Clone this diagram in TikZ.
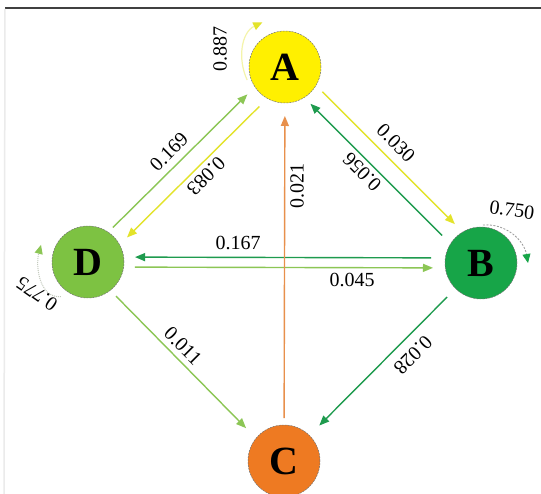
\documentclass[tikz,border=0pt]{standalone}
\usepackage{fontspec}
\setmainfont{Liberation Serif}
\usetikzlibrary{calc,arrows.meta}
\definecolor{fillA}{HTML}{FFF000}
\definecolor{fillB}{HTML}{17A548}
\definecolor{fillC}{HTML}{EE7A22}
\definecolor{fillD}{HTML}{7DC242}
\definecolor{lnyel}{HTML}{E3E32A}
\definecolor{lnlgr}{HTML}{8CC655}
\definecolor{lngr}{HTML}{1E9B4E}
\definecolor{lnor}{HTML}{E8904C}
\newcommand\myedge[6]{\draw[arr,#6] ($(#1)!#4!(#2)!#3!90:(#2)$) -- ($(#2)!#5!(#1)!#3!-90:(#1)$);}
\tikzset{
  state/.style={circle, minimum size=72pt, inner sep=0pt, draw=black!55, dash pattern=on 2pt off 1pt, line width=0.5pt, font=\fontsize{40}{40}\selectfont\bfseries},
  lbl/.style={font=\fontsize{20}{20}\selectfont, inner sep=0pt},
  arr/.style={line width=1.4pt, -{Triangle[length=10pt,width=8pt]}},
}
\begin{document}
\begin{tikzpicture}[x=1pt,y=1pt]
\useasboundingbox (0,0) rectangle (541,-494);
\clip (0,0) rectangle (541,-494);
\fill[white] (0,0) rectangle (541,-494);
\coordinate (tl) at (5,-8);
\coordinate (tr) at (541,-8);
\coordinate (bl) at (4,-494);
\draw[black!75, line width=1.2pt] (tl) -- (tr);
\draw[black!8, line width=1.5pt] ([yshift=-1pt]tl) -- (bl);

\node[state, fill=fillA] (A) at (285,-67) {A};
\node[state, fill=fillB] (B) at (481,-263) {B};
\node[state, fill=fillC] (C) at (284,-461) {C};
\node[state, fill=fillD] (D) at (88,-262) {D};

% diagonal pairs
\myedge{D}{A}{7pt}{42pt}{46pt}{lnlgr}
\myedge{A}{D}{10pt}{46pt}{45pt}{lnyel}
\myedge{A}{B}{9pt}{44pt}{46pt}{lnyel}
\myedge{B}{A}{8pt}{47pt}{44pt}{lngr}
% horizontal pair
\myedge{B}{D}{-5pt}{50pt}{47pt}{lngr}
\myedge{D}{B}{-5pt}{47pt}{48pt}{lnlgr}
% vertical and lower diagonals
\myedge{C}{A}{0pt}{43pt}{49pt}{lnor}
\myedge{D}{C}{-4pt}{44pt}{50pt}{lnlgr}
\myedge{B}{C}{0pt}{48pt}{50pt}{lngr}

% self loops
\draw[line width=1.2pt, color=lnyel!40, -{Triangle[length=9pt,width=8pt,color=lnyel]}]
  ($(A)+(199:40pt)$) to[out=115,in=205] ($(A)+(117:50pt)$);
\draw[line width=0.8pt, color=black!40, dash pattern=on 2pt off 1.5pt, -{Triangle[length=9pt,width=8pt,color=fillB]}]
  ($(B)+(87:38pt)$) to[out=5,in=100] ($(B)+(0:47pt)$);
\draw[line width=1pt, color=lnlgr!40!black!30, densely dotted, -{Triangle[length=9pt,width=8pt,color=lnlgr]}]
  ($(D)+(232:44pt)$) to[out=185,in=-105] ($(D)+(160:50pt)$);

% labels
\node[lbl, rotate=90] (lAA) at (220,-49) {0.887};
\node[lbl, rotate=-8] (lBB) at (512,-210) {0.750};
\node[lbl, rotate=145] (lDD) at (37,-294) {0.775};
\node[lbl, rotate=45] (lDA) at (169,-152) {0.169};
\node[lbl, rotate=225] (lAD) at (206,-176) {0.083};
\node[lbl, rotate=-45] (lAB) at (396,-143) {0.030};
\node[lbl, rotate=135] (lBA) at (362,-172) {0.056};
\node[lbl, rotate=90] (lCA) at (297,-186) {0.021};
\node[lbl] (lBD) at (238,-243) {0.167};
\node[lbl] (lDB) at (352,-280) {0.045};
\node[lbl, rotate=-45] (lDC) at (183,-346) {0.011};
\node[lbl, rotate=225] (lBC) at (413,-355) {0.028};
\end{tikzpicture}
\end{document}
